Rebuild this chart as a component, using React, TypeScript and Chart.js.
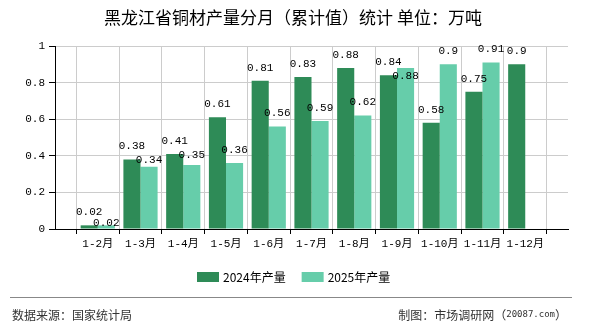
import React, { useEffect, useRef } from "react";
import { Chart, registerables } from "chart.js";

Chart.register(...registerables);

// ---- data ----
const months = ["1-2月", "1-3月", "1-4月", "1-5月", "1-6月", "1-7月", "1-8月", "1-9月", "1-10月", "1-11月", "1-12月"];
const values2024 = [0.02, 0.38, 0.41, 0.61, 0.81, 0.83, 0.88, 0.84, 0.58, 0.75, 0.9];
const values2025 = [0.02, 0.34, 0.35, 0.36, 0.56, 0.59, 0.62, 0.88, 0.9, 0.91, null];
const seriesNames = ["2024年产量", "2025年产量"];
const yTickValues = [0, 0.2, 0.4, 0.6, 0.8, 1];
const titleText = "黑龙江省铜材产量分月（累计值）统计 单位：万吨";
const sourceText = "数据来源：国家统计局";
const creditParts = ["制图：市场调研网（", "20087.com", "）"];

// ---- styles ----
const COLORS = ["#2e8b57", "#66cdaa"];
const NUM_FAMILY = "'Liberation Mono', 'Noto Sans CJK SC', monospace";
const CJK_FAMILY = "'Noto Sans CJK SC', 'Noto Sans', sans-serif";

const labels = ["", ...months, ""];
const pad = (arr: (number | null)[]) => [null, ...arr, null];

const fmt = (v: number) => String(+v.toFixed(2));

const decorPlugin = {
  id: "decor",
  afterDatasetsDraw(chart: any) {
    const ctx = chart.ctx as CanvasRenderingContext2D;
    const area = chart.chartArea;
    ctx.save();
    ctx.font = `11px ${NUM_FAMILY}`;
    ctx.fillStyle = "#000";
    ctx.textAlign = "center";
    ctx.textBaseline = "middle";
    const m0 = chart.getDatasetMeta(0);
    const m1 = chart.getDatasetMeta(1);
    const d0 = chart.data.datasets[0].data;
    const d1 = chart.data.datasets[1].data;
    for (let i = 0; i < labels.length; i++) {
      let y0: number | null = null;
      if (d0[i] != null) {
        const b = m0.data[i];
        y0 = b.y - 13;
        ctx.fillText(fmt(d0[i]), b.x, y0);
      }
      if (d1[i] != null) {
        const b = m1.data[i];
        let y1 = b.y - 13;
        if (y0 != null && Math.abs(y1 - y0) < 14) {
          y1 = y0 + 14;
        }
        y1 = Math.min(y1, area.bottom - 6);
        ctx.fillText(fmt(d1[i]), b.x, y1);
      }
    }
    ctx.restore();
  },
  afterDraw(chart: any) {
    const ctx = chart.ctx as CanvasRenderingContext2D;
    ctx.save();
    // title
    ctx.fillStyle = "#000";
    ctx.font = `17px ${CJK_FAMILY}`;
    ctx.textAlign = "center";
    ctx.textBaseline = "middle";
    ctx.fillText(titleText, 293, 18);

    // legend
    ctx.font = `12px ${CJK_FAMILY}`;
    ctx.textAlign = "left";
    let x = 197;
    const ly = 277;
    chart.data.datasets.forEach((ds: any) => {
      ctx.fillStyle = ds.backgroundColor;
      ctx.fillRect(x, ly - 5, 22, 10);
      ctx.fillStyle = "#000";
      ctx.fillText(ds.label, x + 26, ly);
      x += 26 + ctx.measureText(ds.label).width + 16;
    });

    // separator
    ctx.strokeStyle = "#888";
    ctx.lineWidth = 1;
    ctx.beginPath();
    ctx.moveTo(10, 297.5);
    ctx.lineTo(572, 297.5);
    ctx.stroke();

    // footer
    ctx.fillStyle = "#333";
    ctx.font = `12px ${CJK_FAMILY}`;
    ctx.textAlign = "left";
    ctx.fillText(sourceText, 12, 315);

    const fonts = [`12px ${CJK_FAMILY}`, `9px 'DejaVu Sans Mono', monospace`, `12px ${CJK_FAMILY}`];
    const widths = creditParts.map((t, i) => {
      ctx.font = fonts[i];
      return ctx.measureText(t).width;
    });
    let cx = 567 - widths.reduce((a, b) => a + b, 0);
    creditParts.forEach((t, i) => {
      ctx.font = fonts[i];
      ctx.fillText(t, cx, 315);
      cx += widths[i];
    });
    ctx.restore();
  },
};

export default function App() {
  const ref = useRef<HTMLCanvasElement | null>(null);
  useEffect(() => {
    if (!ref.current) return;
    const chart = new Chart(ref.current, {
      type: "bar",
      data: {
        labels,
        datasets: [
          { label: seriesNames[0], data: pad(values2024), backgroundColor: COLORS[0], categoryPercentage: 0.8, barPercentage: 1 },
          { label: seriesNames[1], data: pad(values2025), backgroundColor: COLORS[1], categoryPercentage: 0.8, barPercentage: 1 },
        ],
      },
      options: {
        animation: false,
        responsive: false,
        devicePixelRatio: 1,
        layout: { padding: { left: 5, right: 22, top: 46, bottom: 0 } },
        plugins: { legend: { display: false }, title: { display: false }, tooltip: { enabled: false } },
        scales: {
          x: {
            offset: false,
            grid: { color: "#cccccc", tickColor: "#000", tickLength: 5, drawOnChartArea: true },
            border: { color: "#000" },
            ticks: { color: "#000", font: { family: NUM_FAMILY, size: 11 }, padding: 3, autoSkip: false, maxRotation: 0 },
            afterFit: (s: any) => { s.height = 101; },
          },
          y: {
            min: 0,
            max: 1,
            grid: { color: "#cccccc", tickColor: "#000", tickLength: 6 },
            border: { color: "#000" },
            ticks: { color: "#000", font: { family: NUM_FAMILY, size: 11 }, padding: 4, callback: (v: any) => fmt(Number(v)) },
            afterBuildTicks: (s: any) => { s.ticks = yTickValues.map((v) => ({ value: v })); },
            afterFit: (s: any) => { s.width = 50; },
          },
        },
      },
      plugins: [decorPlugin],
    });
    return () => chart.destroy();
  }, []);
  return (
    <div style={{ position: "absolute", left: 0, top: 0, width: 590, height: 330, background: "#fff" }}>
      <canvas ref={ref} width={590} height={330} />
    </div>
  );
}
